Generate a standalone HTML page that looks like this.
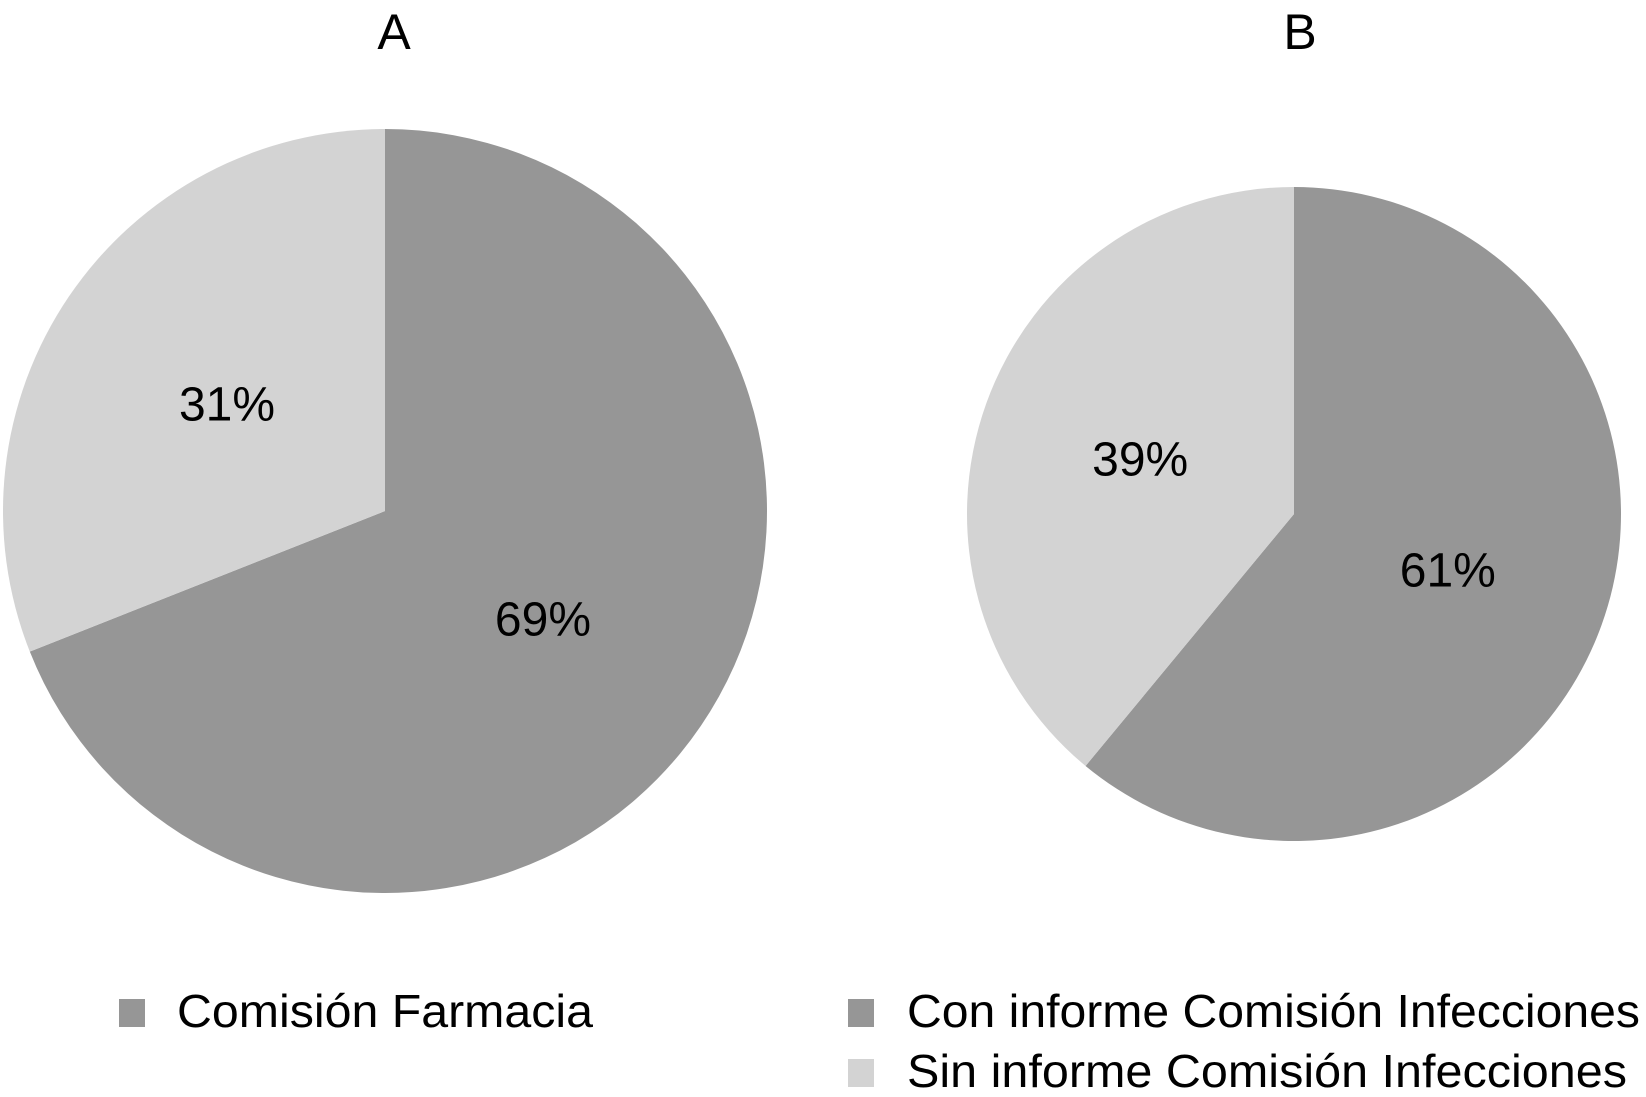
<!DOCTYPE html>
<html><head><meta charset="utf-8"><style>
html,body{margin:0;padding:0;background:#fff;width:1646px;height:1097px;overflow:hidden}
svg text{font-family:"Liberation Sans",Arial,sans-serif;fill:#000}
</style></head><body>
<svg id="chart" width="1646" height="1097" viewBox="0 0 1646 1097" xmlns="http://www.w3.org/2000/svg">
<text x="394" y="49" font-size="50" text-anchor="middle">A</text>
<text x="1300" y="49" font-size="50" text-anchor="middle">B</text>
<g id="pieA"></g>
<g id="pieB"></g>
<rect x="119" y="999" width="26" height="28" fill="#969696"/>
<text x="177" y="1027" font-size="46" textLength="416" lengthAdjust="spacingAndGlyphs">Comisión Farmacia</text>
<rect x="848" y="999" width="26" height="28" fill="#969696"/>
<text x="907" y="1027" font-size="46" textLength="733" lengthAdjust="spacingAndGlyphs">Con informe Comisión Infecciones</text>
<rect x="848" y="1059" width="26" height="28" fill="#d3d3d3"/>
<text x="907" y="1087" font-size="46" textLength="720" lengthAdjust="spacingAndGlyphs">Sin informe Comisión Infecciones</text>
</svg>
<script>
const pieAValues = [69, 31];
const pieALabels = ["69%", "31%"];
const pieBValues = [61, 39];
const pieBLabels = ["61%", "39%"];
const colors = ["#969696", "#d3d3d3"];
const NS = "http://www.w3.org/2000/svg";
function drawPie(gid, values, labels, cx, cy, r, names) {
  const g = document.getElementById(gid);
  const total = values.reduce((a, b) => a + b, 0);
  let a0 = 0;
  values.forEach((v, i) => {
    const a1 = a0 + v / total * 2 * Math.PI;
    const pt = a => [cx + r * Math.sin(a), cy - r * Math.cos(a)];
    const p0 = pt(a0), p1 = pt(a1);
    const large = (a1 - a0) > Math.PI ? 1 : 0;
    const path = document.createElementNS(NS, "path");
    path.setAttribute("d", `M${cx},${cy} L${p0[0]},${p0[1]} A${r},${r} 0 ${large} 1 ${p1[0]},${p1[1]} Z`);
    path.setAttribute("fill", colors[i]);
    
    
    g.appendChild(path);
    const mid = (a0 + a1) / 2;
    const lr = r * 0.5;
    const t = document.createElementNS(NS, "text");
    t.setAttribute("x", cx + lr * Math.sin(mid));
    t.setAttribute("y", cy - lr * Math.cos(mid) + 17);
    t.setAttribute("font-size", "48");
    t.setAttribute("text-anchor", "middle");
    t.textContent = labels[i];
    
    
    g.appendChild(t);
    a0 = a1;
  });
}
drawPie("pieA", pieAValues, pieALabels, 385, 511, 382, ["slice-a-comision-farmacia", "slice-a-other"]);
drawPie("pieB", pieBValues, pieBLabels, 1294, 514, 327, ["slice-b-con-informe", "slice-b-sin-informe"]);
</script>
</body></html>
